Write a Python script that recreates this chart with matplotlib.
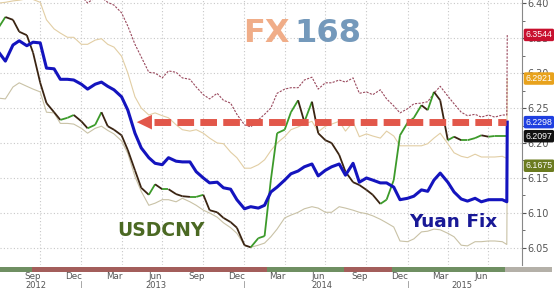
import numpy as np
import pandas as pd
import matplotlib
matplotlib.use('Agg')
import matplotlib.pyplot as plt
import matplotlib.dates as mdates
from matplotlib.collections import LineCollection
from matplotlib.patches import Rectangle
from matplotlib.ticker import MultipleLocator
from matplotlib.transforms import blended_transform_factory

# ---------------- datos (quincenales, jul 2012 - ago 2015) ----------------
dates = list(pd.date_range('2012-07-01', '2015-08-01', freq='SMS'))
dates += [pd.Timestamp('2015-08-11'), pd.Timestamp('2015-08-12')]

yuan_fix = [6.329, 6.317, 6.340, 6.346, 6.339, 6.344, 6.343, 6.307, 6.306, 6.291,
            6.291, 6.290, 6.284, 6.277, 6.284, 6.287, 6.281, 6.276, 6.266, 6.247,
            6.214, 6.193, 6.179, 6.171, 6.169, 6.179, 6.174, 6.173, 6.173, 6.159,
            6.150, 6.143, 6.144, 6.136, 6.134, 6.119, 6.106, 6.109, 6.107, 6.111,
            6.130, 6.137, 6.147, 6.156, 6.160, 6.166, 6.170, 6.153, 6.161, 6.166,
            6.170, 6.154, 6.171, 6.144, 6.150, 6.147, 6.143, 6.143, 6.137, 6.119,
            6.121, 6.124, 6.133, 6.131, 6.147, 6.157, 6.144, 6.130, 6.120, 6.117,
            6.121, 6.116, 6.119, 6.119, 6.119, 6.116, 6.2298]

usdcny = [6.366, 6.380, 6.376, 6.359, 6.354, 6.329, 6.286, 6.257, 6.244, 6.233,
          6.236, 6.240, 6.231, 6.221, 6.226, 6.244, 6.224, 6.219, 6.211, 6.190,
          6.161, 6.136, 6.126, 6.141, 6.134, 6.134, 6.127, 6.124, 6.123, 6.123,
          6.126, 6.104, 6.101, 6.093, 6.087, 6.079, 6.054, 6.051, 6.064, 6.067,
          6.147, 6.214, 6.219, 6.244, 6.261, 6.230, 6.259, 6.214, 6.204, 6.200,
          6.183, 6.159, 6.144, 6.140, 6.133, 6.126, 6.113, 6.119, 6.147, 6.211,
          6.229, 6.236, 6.254, 6.247, 6.273, 6.261, 6.204, 6.209, 6.204, 6.204,
          6.207, 6.211, 6.209, 6.210, 6.210, 6.210, 6.2097]

band_up2 = [6.455, 6.445, 6.470, 6.475, 6.468, 6.473, 6.472, 6.435, 6.433, 6.418,
            6.417, 6.415, 6.410, 6.400, 6.408, 6.408, 6.401, 6.397, 6.386, 6.367,
            6.341, 6.323, 6.301, 6.300, 6.293, 6.303, 6.301, 6.293, 6.291, 6.280,
            6.269, 6.263, 6.271, 6.261, 6.257, 6.241, 6.226, 6.223, 6.233, 6.241,
            6.250, 6.271, 6.277, 6.279, 6.279, 6.290, 6.294, 6.277, 6.286, 6.286,
            6.290, 6.287, 6.293, 6.271, 6.273, 6.269, 6.276, 6.263, 6.253, 6.243,
            6.249, 6.256, 6.257, 6.259, 6.271, 6.281, 6.267, 6.256, 6.244, 6.239,
            6.241, 6.237, 6.240, 6.237, 6.240, 6.240, 6.3544]

band_up1 = [6.400, 6.401, 6.403, 6.404, 6.406, 6.405, 6.401, 6.376, 6.363, 6.357,
            6.351, 6.351, 6.341, 6.341, 6.347, 6.349, 6.341, 6.337, 6.324, 6.300,
            6.266, 6.250, 6.240, 6.243, 6.239, 6.236, 6.226, 6.219, 6.217, 6.219,
            6.214, 6.207, 6.200, 6.199, 6.187, 6.179, 6.164, 6.164, 6.169, 6.176,
            6.189, 6.200, 6.209, 6.219, 6.223, 6.227, 6.231, 6.216, 6.224, 6.227,
            6.231, 6.217, 6.230, 6.209, 6.213, 6.210, 6.207, 6.217, 6.210, 6.196,
            6.196, 6.196, 6.196, 6.199, 6.207, 6.214, 6.199, 6.186, 6.181, 6.179,
            6.184, 6.180, 6.180, 6.180, 6.181, 6.178, 6.2921]

band_dn1 = [6.264, 6.263, 6.280, 6.286, 6.281, 6.277, 6.273, 6.244, 6.243, 6.228,
            6.228, 6.227, 6.221, 6.214, 6.221, 6.224, 6.218, 6.213, 6.203, 6.185,
            6.152, 6.131, 6.111, 6.114, 6.119, 6.119, 6.116, 6.121, 6.116, 6.111,
            6.104, 6.100, 6.094, 6.086, 6.079, 6.071, 6.054, 6.051, 6.054, 6.057,
            6.066, 6.077, 6.093, 6.097, 6.101, 6.106, 6.109, 6.107, 6.101, 6.101,
            6.109, 6.107, 6.104, 6.101, 6.099, 6.096, 6.091, 6.086, 6.080, 6.060,
            6.059, 6.063, 6.073, 6.074, 6.077, 6.076, 6.071, 6.066, 6.054, 6.053,
            6.059, 6.059, 6.060, 6.060, 6.059, 6.055, 6.1675]

# barra inferior (regimen)
strip_edges = ['2012-07-01', '2012-09-13', '2014-02-21', '2014-08-11',
               '2014-11-28', '2015-08-07', '2015-11-20']
strip_colors = ['#6f8f62', '#a35e5b', '#6f8f62', '#a35e5b', '#6f8f62', '#b4b0a8']

year_labels = ['2012', '2013', '2014', '2015']
year_pos = ['2012-09-22', '2013-06-16', '2014-06-24', '2015-05-03']
year_breaks = ['2013-01-01', '2014-01-01', '2015-01-01']

arrow_tip = '2013-05-05'
arrow_base = '2013-06-08'
arrow_end = '2015-08-10'

# ---------------- figura ----------------
fig = plt.figure(figsize=(5.54, 2.88), dpi=100)
ax = fig.add_axes([0, 23 / 288, 522 / 554, 265 / 288])

x = mdates.date2num(dates)

ax.plot(x, band_dn1, color='#c9c2a6', lw=0.8)
ax.plot(x, band_up1, color='#e2cea4', lw=0.8)
ax.plot(x, band_up2, color='#9a4a5e', lw=0.8, linestyle=(0, (2, 1.2)))

# USDCNY: verde sube, oscuro baja
pts = np.column_stack([x, usdcny])
segs = np.stack([pts[:-1], pts[1:]], axis=1)
cols = ['#3c9a2a' if b >= a else '#3a2412' for a, b in zip(usdcny[:-1], usdcny[1:])]
ax.add_collection(LineCollection(segs, colors=cols, linewidths=1.3))

ax.plot(x, yuan_fix, color='#1414be', lw=2.2)

# flecha discontinua al nivel del ultimo fix
level = yuan_fix[-1]
t_tip, t_base, t_end = mdates.date2num(pd.to_datetime([arrow_tip, arrow_base, arrow_end]))
ax.fill([t_tip, t_base, t_base], [level, level + 0.0105, level - 0.0105],
        color='#e2574a', lw=0)
ax.plot([t_base + 5, t_end], [level, level], color='#e2574a', lw=5,
        dashes=(2.4, 0.9), dash_capstyle='butt')

# textos
ax.text(0.224, 0.109, 'USDCNY', transform=ax.transAxes, color='#4b6923',
        fontsize=13.5, fontweight='bold')
ax.text(0.784, 0.143, 'Yuan Fix', transform=ax.transAxes, color='#191996',
        fontsize=13.3, fontweight='bold')
ax.text(0.4655, 0.8415, 'FX', transform=ax.transAxes, color='#f0ad88',
        fontsize=23, fontweight='bold')
ax.text(0.563, 0.8415, '168', transform=ax.transAxes, color='#7499bb',
        fontsize=23, fontweight='bold')

# ejes
ax.set_xlim(mdates.date2num(pd.Timestamp('2012-07-03')),
            mdates.date2num(pd.Timestamp('2015-09-14')))
ax.set_ylim(6.0257, 6.4043)

ax.yaxis.tick_right()
ax.yaxis.set_major_locator(MultipleLocator(0.05))
ax.yaxis.set_minor_locator(MultipleLocator(0.025))
ax.yaxis.set_major_formatter(plt.FormatStrFormatter('%.2f'))
ax.tick_params(axis='y', which='major', labelsize=7, colors='#555555', length=3, pad=1)
ax.tick_params(axis='y', which='minor', length=2, colors='#555555')

ax.xaxis.set_major_locator(mdates.MonthLocator(bymonth=[3, 6, 9, 12], bymonthday=15))
ax.xaxis.set_major_formatter(mdates.DateFormatter('%b'))
ax.xaxis.set_minor_locator(mdates.MonthLocator(bymonth=[1, 4, 7, 10]))
ax.tick_params(axis='x', which='both', length=0, labelsize=6.3, colors='#555555', pad=5)

ax.grid(True, which='major', axis='y', color='#c8c8c8', lw=0.8, linestyle=(0, (1, 2)))
ax.grid(True, which='minor', axis='x', color='#c8c8c8', lw=0.8, linestyle=(0, (1, 2)))

for s in ['top', 'left', 'bottom']:
    ax.spines[s].set_visible(False)
ax.spines['right'].set_color('#888888')

# barra de regimen bajo el eje
tr = blended_transform_factory(ax.transData, ax.transAxes)
edges = mdates.date2num(pd.to_datetime(strip_edges))
for i in range(len(strip_colors)):
    ax.add_patch(Rectangle((edges[i], -7 / 265), edges[i + 1] - edges[i], 5 / 265,
                           transform=tr, color=strip_colors[i], clip_on=False, lw=0))

for lab, pos in zip(year_labels, year_pos):
    ax.text(mdates.date2num(pd.Timestamp(pos)), -16.5 / 265, lab, transform=tr,
            ha='center', va='top', fontsize=6, color='#555555')
for b in year_breaks:
    xb = mdates.date2num(pd.Timestamp(b))
    ax.plot([xb, xb], [-16 / 265, -23 / 265], transform=tr, color='#999999',
            lw=0.6, clip_on=False)

# etiquetas de ultimo valor
tags = [(band_up2[-1], '#c8102e'), (band_up1[-1], '#e8a21c'), (yuan_fix[-1], '#1f3fe0'),
        (usdcny[-1], '#111111'), (band_dn1[-1], '#6b7b1f')]
for val, c in tags:
    ax.annotate('%.4f' % val, xy=(1, val), xycoords=('axes fraction', 'data'),
                xytext=(2.5, 0), textcoords='offset points', va='center', ha='left',
                fontsize=6.3, family='Liberation Sans', color='white',
                annotation_clip=False, zorder=10,
                bbox=dict(boxstyle='round,pad=0.2', fc=c, ec='none'))

plt.savefig('out.png', dpi=100)
